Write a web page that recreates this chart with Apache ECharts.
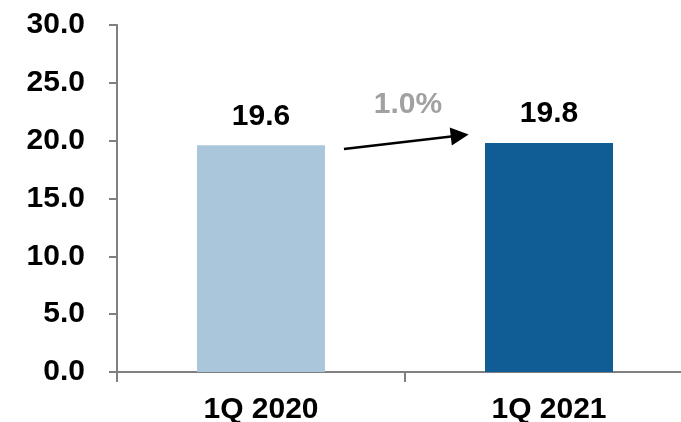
<!DOCTYPE html>
<html><head><meta charset="utf-8">
<script src="https://cdn.jsdelivr.net/npm/echarts@6/dist/echarts.min.js"></script>
<style>html,body{margin:0;padding:0;background:#fff;overflow:hidden}#c{width:681px;height:422px}</style>
</head><body><div id="c"></div>
<script>
const categories = ['1Q 2020', '1Q 2021'];
const values = [19.6, 19.8];
const barColors = ['#A9C6DB', '#0F5D94'];
const growthLabel = '1.0%';
const arrowFrom = [0.788, 19.28];
const arrowTo = [1.19, 20.45];
const growthLabelPos = [1.01, 23.1];

const font = '"Liberation Sans", Arial, sans-serif';
const chart = echarts.init(document.getElementById('c'), null, {renderer: 'canvas'});
chart.setOption({
  animation: false,
  grid: {left: 117, right: -12, top: 25, bottom: 50, containLabel: false, outerBoundsMode: 'none'},
  xAxis: [{
    type: 'category', data: categories,
    axisLine: {lineStyle: {color: '#808080', width: 2}},
    axisTick: {show: true, length: 10, lineStyle: {color: '#808080', width: 2}},
    axisLabel: {color: '#000', fontSize: 30, fontWeight: 'bold', fontFamily: font, margin: 23}
  }, {
    type: 'value', min: 0, max: 2, show: false
  }],
  yAxis: {
    type: 'value', min: 0, max: 30, interval: 5,
    splitLine: {show: false},
    axisLine: {show: true, lineStyle: {color: '#808080', width: 2}},
    axisTick: {show: true, length: 8, lineStyle: {color: '#808080', width: 2}},
    axisLabel: {color: '#000', fontSize: 30, fontWeight: 'bold', fontFamily: font, margin: 32,
      formatter: v => v.toFixed(1)}
  },
  series: [{
    type: 'bar', barWidth: 128,
    data: values.map((v, i) => ({value: v, itemStyle: {color: barColors[i]}})),
    label: {show: true, position: 'top', distance: 14, color: '#000', fontSize: 30,
      fontWeight: 'bold', fontFamily: font, formatter: p => p.value.toFixed(1)}
  }, {
    type: 'lines', coordinateSystem: 'cartesian2d', xAxisIndex: 1, yAxisIndex: 0,
    symbol: ['none', 'triangle'], symbolSize: [0, 18],
    lineStyle: {color: '#000', width: 2.5, opacity: 1},
    data: [{coords: [arrowFrom, arrowTo]}]
  }, {
    type: 'scatter', xAxisIndex: 1, yAxisIndex: 0, symbolSize: 0,
    data: [growthLabelPos],
    label: {show: true, position: 'inside', formatter: growthLabel, color: '#8a8a8a',
      fontSize: 30, fontWeight: 'bold', fontFamily: font}
  }]
});
</script></body></html>
